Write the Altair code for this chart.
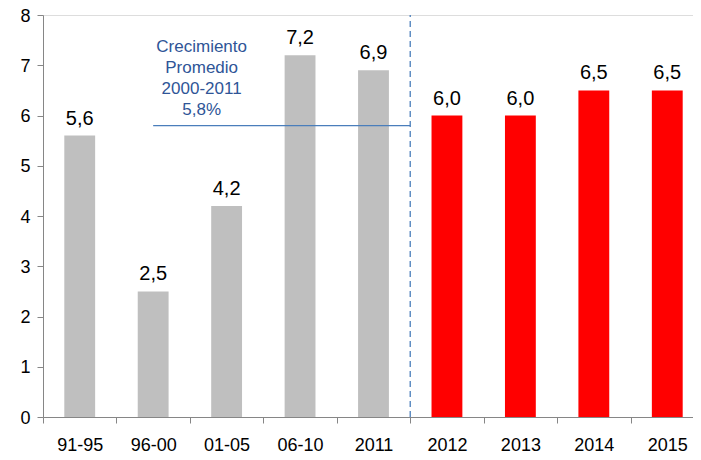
import altair as alt
import pandas as pd

categories = ["91-95", "96-00", "01-05", "06-10", "2011", "2012", "2013", "2014", "2015"]
values = [5.6, 2.5, 4.2, 7.2, 6.9, 6.0, 6.0, 6.5, 6.5]
kinds = ["hist"] * 5 + ["proy"] * 4
avg_value = 5.8
note_lines = ["Crecimiento", "Promedio", "2000-2011", "5,8%"]

df = pd.DataFrame({"cat": categories, "val": values, "kind": kinds})
df["lab"] = [f"{v:.1f}".replace(".", ",") for v in values]

FONT = "Liberation Sans"
xscale = alt.Scale(domain=categories, paddingInner=0, paddingOuter=0, range=[0, 661])
xenc = alt.X("cat:N", sort=categories, title=None, scale=xscale,
             axis=alt.Axis(labelAngle=0, labelFontSize=18, labelFont=FONT, labelColor="#000000",
                           domainColor="#868686", tickColor="#868686", tickSize=6, ticks=True,
                           tickBand="extent", labelPadding=13, grid=False))
yscale = alt.Scale(domain=[0, 8], nice=False)
yenc = alt.Y("val:Q", scale=yscale, title=None,
             axis=alt.Axis(values=list(range(9)), labelFontSize=18, labelFont=FONT, labelColor="#000000",
                           domainColor="#868686", tickColor="#868686", tickSize=6, ticks=True,
                           labelPadding=7, labelOffset=1, grid=False))

base = alt.Chart(df)
bars = base.mark_bar(width=alt.RelativeBandSize(0.42)).encode(
    x=xenc, y=yenc,
    color=alt.Color("kind:N", scale=alt.Scale(domain=["hist", "proy"], range=["#BFBFBF", "#FF0000"]), legend=None),
)
labels = base.mark_text(baseline="bottom", dy=-7, fontSize=20, font=FONT, color="#000000").encode(
    x=alt.X("cat:N", sort=categories, scale=xscale), y=alt.Y("val:Q", scale=yscale), text="lab:N")

hline = alt.Chart(pd.DataFrame({"v": [avg_value]})).mark_rule(color="#4A7EBB", strokeWidth=1.3).encode(
    x=alt.X(datum="96-00", bandPosition=0.5),
    x2=alt.X2Datum("2012", bandPosition=0),
    y=alt.Y("v:Q", scale=yscale),
)
vline = alt.Chart(pd.DataFrame({"a": [0]})).mark_rule(color="#4A7EBB", strokeDash=[6, 4], strokeWidth=1.3).encode(
    x=alt.X(datum="2012", bandPosition=0),
    y=alt.Y(datum=0),
    y2=alt.Y2Datum(8),
)
note = alt.Chart(pd.DataFrame({"a": [0]})).mark_text(
    baseline="top", align="center", fontSize=17, font=FONT, color="#2F5597", lineHeight=21
).encode(
    x=alt.X(datum="01-05", bandPosition=0.16),
    y=alt.Y(datum=7.53),
    text=alt.value(note_lines),
)

chart = alt.layer(bars, labels, hline, vline, note).properties(
    width=650, height=402,
    autosize=alt.AutoSizeParams(type="none"),
    padding={"left": 35, "top": 7, "right": 0, "bottom": 40},
).configure_view(stroke=None).configure(background="white")

chart.save("out.html", embed_options={"renderer": "svg", "actions": False})
